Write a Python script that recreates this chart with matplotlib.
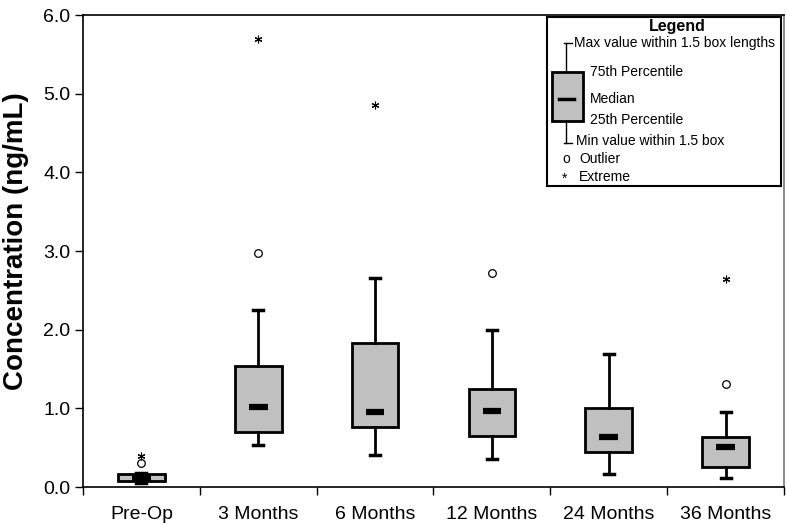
import matplotlib
matplotlib.use('Agg')
import matplotlib.pyplot as plt
from matplotlib.patches import Rectangle
import numpy as np

plt.rcParams['font.family'] = ['Liberation Sans', 'DejaVu Sans']

# values (ng/mL)
categories = ['Pre-Op', '3 Months', '6 Months', '12 Months', '24 Months', '36 Months']
whis_lo = [0.05, 0.53, 0.41, 0.36, 0.16, 0.12]
q1 = [0.07, 0.70, 0.76, 0.65, 0.44, 0.26]
medians = [0.11, 1.02, 0.95, 0.97, 0.635, 0.51]
q3 = [0.16, 1.54, 1.83, 1.25, 1.01, 0.64]
whis_hi = [0.18, 2.25, 2.66, 2.00, 1.69, 0.95]
outliers = {'Pre-Op': [0.31], '3 Months': [2.98], '12 Months': [2.72], '36 Months': [1.31]}
extremes = {'Pre-Op': [0.40], '3 Months': [5.69], '6 Months': [4.85], '36 Months': [2.64]}

yticks = np.arange(0, 7, 1.0)

fig = plt.figure(figsize=(7.86, 5.23), dpi=100)
ax = fig.add_axes([83/786, 36/523, 701/786, 472/523])

pos = np.arange(len(categories))
stats = []
for i, c in enumerate(categories):
    stats.append(dict(label=c, whislo=whis_lo[i], q1=q1[i], med=medians[i],
                      q3=q3[i], whishi=whis_hi[i], fliers=[]))

ax.bxp(stats, positions=pos, widths=0.40, capwidths=0.085, showfliers=False,
       patch_artist=True,
       boxprops=dict(facecolor='#c0c0c0', edgecolor='black', linewidth=2),
       whiskerprops=dict(color='black', linewidth=2),
       capprops=dict(color='black', linewidth=2.5),
       medianprops=dict(visible=False))
ax.hlines(medians, pos - 0.08, pos + 0.08, colors='black', linewidth=4.5, zorder=5)

for i, c in enumerate(categories):
    ov = outliers.get(c, [])
    ax.plot([pos[i]] * len(ov), ov, linestyle='none', marker='o', markersize=5.5,
            markerfacecolor='none', markeredgecolor='black', markeredgewidth=0.9)
    ev = extremes.get(c, [])
    ax.plot([pos[i]] * len(ev), ev, linestyle='none', marker=(6, 2, 0), markersize=5.5,
            markeredgewidth=0.8, color='black')

ax.set_xlim(-0.5, len(categories) - 0.5)
ax.set_ylim(0, 6.0)
ax.set_yticks(yticks)
ax.set_yticklabels([f'{v:.1f}' for v in yticks], fontsize=14)
ax.set_xticks(pos)
ax.set_xticklabels(categories, fontsize=14)
ax.set_xticks(np.arange(-0.5, len(categories), 1.0), minor=True)
ax.tick_params(axis='x', which='major', length=0, pad=14)
ax.tick_params(axis='x', which='minor', length=6, width=1)
ax.tick_params(axis='y', length=6, width=1, pad=3)
for s in ax.spines.values():
    s.set_linewidth(1.2)
ax.spines['right'].set_color('#777777')
ax.set_ylabel('Concentration (ng/mL)', fontsize=20, fontweight='bold')
ax.yaxis.set_label_coords(-0.077, 0.52)

# hand-drawn legend panel
lx, ly, lw, lh = 547, 17, 234, 169
lg = fig.add_axes([lx/786, 1 - (ly + lh)/523, lw/786, lh/523])
lg.set_xlim(0, lw)
lg.set_ylim(lh, 0)
lg.set_xticks([])
lg.set_yticks([])
for s in lg.spines.values():
    s.set_linewidth(1.5)
lg.text(130, 10, 'Legend', fontsize=11.5, fontweight='bold', ha='center', va='center')
lg.plot([19, 19], [26, 126], color='black', linewidth=1)
lg.plot([17, 25], [26, 26], color='black', linewidth=1)
lg.plot([17, 25], [126, 126], color='black', linewidth=1)
lg.add_patch(Rectangle((5, 55), 31, 49, facecolor='#c0c0c0', edgecolor='black', linewidth=2, zorder=3))
lg.plot([12, 27], [82, 82], color='black', linewidth=2.5, zorder=4)
fs = 10
lg.text(27, 26, 'Max value within 1.5 box lengths', fontsize=fs, va='center')
lg.text(43, 55, '75th Percentile', fontsize=fs, va='center')
lg.text(43, 82, 'Median', fontsize=fs, va='center')
lg.text(43, 103, '25th Percentile', fontsize=fs, va='center')
lg.text(29, 124, 'Min value within 1.5 box', fontsize=fs, va='center')
lg.text(15, 142, 'o', fontsize=fs, va='center')
lg.text(32, 142, 'Outlier', fontsize=fs, va='center')
lg.text(15, 162, '*', fontsize=fs, va='center')
lg.text(32, 160, 'Extreme', fontsize=fs, va='center')

fig.savefig('out.png', dpi=100)
